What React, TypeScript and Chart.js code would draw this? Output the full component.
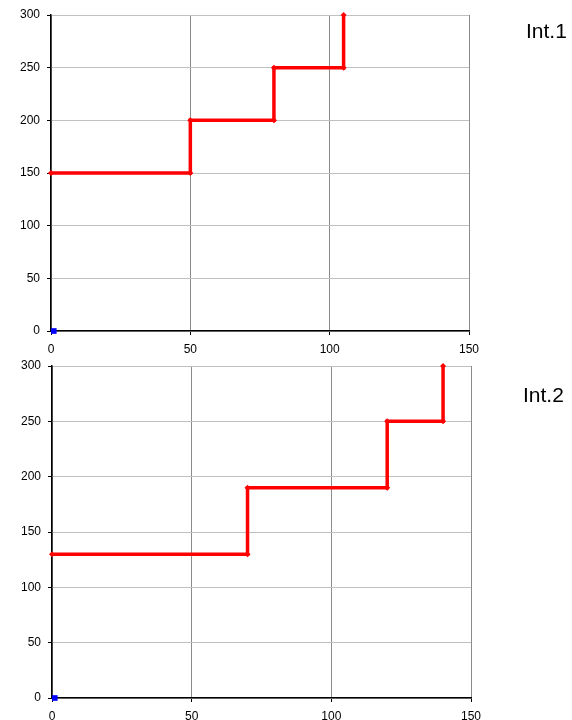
import React, { useEffect, useRef } from "react";
import { Chart, registerables } from "chart.js";

Chart.register(...registerables);

const xTicks = [0, 50, 100, 150];
const yTicks = [0, 50, 100, 150, 200, 250, 300];

const int1X = [0, 50, 50, 80, 80, 105, 105];
const int1Y = [150, 150, 200, 200, 250, 250, 300];
const int2X = [0, 70, 70, 120, 120, 140, 140];
const int2Y = [130, 130, 190, 190, 250, 250, 300];
const originX = [1];
const originY = [0];

const labels = ["Int.1", "Int.2"];

const FONT = "'Liberation Sans', Arial, sans-serif";

function pts(xs: number[], ys: number[]) {
  return xs.map((x, i) => ({ x, y: ys[i] }));
}

type Cfg = {
  xs: number[];
  ys: number[];
  yWidth: number;
  xHeight: number;
  padTop: number;
  padRight: number;
};

function StepChart({ cfg, height }: { cfg: Cfg; height: number }) {
  const ref = useRef<HTMLCanvasElement | null>(null);
  useEffect(() => {
    if (!ref.current) return;
    const chart = new Chart(ref.current, {
      type: "scatter",
      data: {
        datasets: [
          {
            data: pts(cfg.xs, cfg.ys),
            showLine: true,
            borderColor: "#ff0000",
            backgroundColor: "#ff0000",
            borderWidth: 3.5,
            pointStyle: "rectRot",
            pointRadius: 3,
            pointBorderWidth: 0,
            clip: false,
          },
          {
            data: pts(originX, originY),
            showLine: false,
            borderColor: "#0000ff",
            backgroundColor: "#0000ff",
            pointStyle: "rect",
            pointRadius: 4,
            pointBorderWidth: 0,
            clip: false,
          },
        ],
      },
      options: {
        animation: false,
        responsive: false,
        maintainAspectRatio: false,
        layout: {
          padding: { top: cfg.padTop, right: cfg.padRight, left: 0, bottom: 0 },
        },
        plugins: { legend: { display: false }, tooltip: { enabled: false }, title: { display: false } },
        scales: {
          x: {
            type: "linear",
            min: xTicks[0],
            max: xTicks[xTicks.length - 1],
            afterBuildTicks: (s: any) => {
              s.ticks = xTicks.map((v) => ({ value: v }));
            },
            afterFit: (s: any) => {
              s.height = cfg.xHeight;
            },
            ticks: { color: "#000", font: { family: FONT, size: 12 }, padding: 7 },
            grid: { color: "#8c8c8c", tickColor: "#000", tickLength: 4, lineWidth: 1 },
            border: { color: "#000", width: 1.5 },
          },
          y: {
            type: "linear",
            min: yTicks[0],
            max: yTicks[yTicks.length - 1],
            afterBuildTicks: (s: any) => {
              s.ticks = yTicks.map((v) => ({ value: v }));
            },
            afterFit: (s: any) => {
              s.width = cfg.yWidth;
            },
            ticks: { color: "#000", font: { family: FONT, size: 12 }, padding: 7 },
            grid: { color: "#c0c0c0", tickColor: "#000", tickLength: 4, lineWidth: 1 },
            border: { color: "#000", width: 1.5 },
          },
        },
      },
    } as any);
    return () => chart.destroy();
  }, []);
  return <canvas ref={ref} width={572} height={height} style={{ display: "block" }} />;
}

export default function App() {
  const c1: Cfg = { xs: int1X, ys: int1Y, yWidth: 51, xHeight: 29, padTop: 15, padRight: 103 };
  const c2: Cfg = { xs: int2X, ys: int2Y, yWidth: 52, xHeight: 22, padTop: 16, padRight: 101 };
  return (
    <div style={{ position: "absolute", left: 0, top: 0, width: 572, height: 720, background: "#fff" }}>
      <div style={{ position: "absolute", left: 0, top: 0 }}>
        <StepChart cfg={c1} height={360} />
      </div>
      <div style={{ position: "absolute", left: 0, top: 350 }}>
        <StepChart cfg={c2} height={370} />
      </div>
      <div
        style={{
          position: "absolute",
          left: 526,
          top: 20,
          fontFamily: FONT,
          fontSize: 21,
          lineHeight: "21px",
          color: "#000",
          whiteSpace: "nowrap",
        }}
      >
        {labels[0]}
      </div>
      <div
        style={{
          position: "absolute",
          left: 523,
          top: 384,
          fontFamily: FONT,
          fontSize: 21,
          lineHeight: "21px",
          color: "#000",
          whiteSpace: "nowrap",
        }}
      >
        {labels[1]}
      </div>
    </div>
  );
}
